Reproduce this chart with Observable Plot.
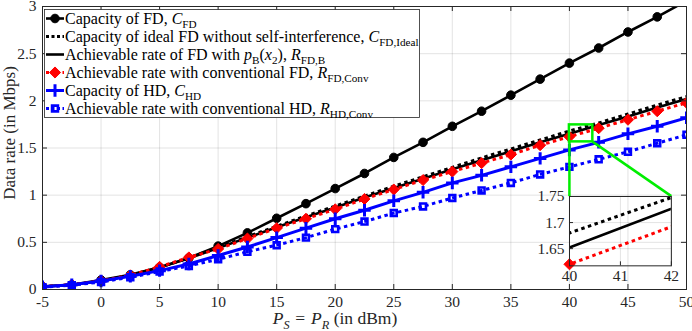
<!DOCTYPE html>
<html><head><meta charset="utf-8">
<script src="https://cdn.jsdelivr.net/npm/d3@7"></script>
<script src="https://cdn.jsdelivr.net/npm/@observablehq/plot@0.6"></script>
<style>
body{margin:0;background:#fff;}
#wrap{position:relative;width:692px;height:331px;overflow:hidden;}
#wrap svg{position:absolute;overflow:visible;}
</style></head><body><div id="wrap"></div>
<script>
// ---------- data ----------
const power = [-5,-2.5,0,2.5,5,7.5,10,12.5,15,17.5,20,22.5,25,27.5,30,32.5,35,37.5,40,42.5,45,47.5,50];
const capFD      = [0.03,0.05,0.10,0.155,0.235,0.335,0.46,0.60,0.755,0.91,1.07,1.23,1.40,1.56,1.73,1.89,2.06,2.23,2.40,2.56,2.73,2.89,3.06];
const capFDIdeal = [0.03,0.05,0.09,0.15,0.235,0.335,0.445,0.56,0.67,0.78,0.885,0.99,1.095,1.195,1.295,1.395,1.49,1.585,1.68,1.765,1.86,1.955,2.045];
const rateFDB    = [0.03,0.05,0.09,0.15,0.232,0.33,0.44,0.55,0.66,0.765,0.87,0.975,1.075,1.175,1.275,1.37,1.465,1.56,1.652,1.745,1.835,1.93,2.02];
const rateFDConv = [0.03,0.05,0.09,0.15,0.24,0.34,0.43,0.54,0.65,0.75,0.85,0.96,1.06,1.16,1.25,1.34,1.43,1.53,1.62,1.71,1.80,1.89,1.98];
const capHD      = [0.03,0.05,0.09,0.14,0.20,0.27,0.36,0.45,0.55,0.65,0.75,0.84,0.94,1.03,1.13,1.21,1.30,1.39,1.48,1.56,1.65,1.73,1.82];
const rateHDConv = [0.025,0.045,0.08,0.13,0.19,0.25,0.32,0.40,0.47,0.55,0.64,0.72,0.81,0.88,0.97,1.05,1.13,1.22,1.30,1.38,1.46,1.55,1.64];
const seriesValues = [capFD, capFDIdeal, rateFDB, rateFDConv, capHD, rateHDConv];
const seriesKeys = ["C_FD","C_FD,Ideal","R_FD,B","R_FD,Conv","C_HD","R_HD,Conv"];
const legendLabels = [
  [["Capacity of FD, "],["C","i"],["FD","sub"]],
  [["Capacity of ideal FD without self-interference, "],["C","i"],["FD,Ideal","sub"]],
  [["Achievable rate of FD with "],["p","i"],["B","sub"],["("],["x","i"],["2","sub"],["), "],["R","i"],["FD,B","sub"]],
  [["Achievable rate with conventional FD, "],["R","i"],["FD,Conv","sub"]],
  [["Capacity of HD, "],["C","i"],["HD","sub"]],
  [["Achievable rate with conventional HD, "],["R","i"],["HD,Conv","sub"]]
];
const xTitle = [["P","i"],["S","isub"],["\u2004=\u2004"],["P","i"],["R","isub"],[" (in dBm)"]];
const yTitle = "Data rate (in Mbps)";
const xTicks = [-5,0,5,10,15,20,25,30,35,40,45,50];
const yTicks = [0,0.5,1,1.5,2,2.5,3];
const insetXTicks = [40,41,42];
const insetYTicks = [1.65,1.7,1.75];
const zoomX = [40,42];           // zoomed region (x)
const zoomY = [1.565,1.745];     // zoomed region marker box (y)
const insetDomainY = [1.617,1.75];
const insetPlaceX = [40,48.7];   // where the inset sits, in main data units
const insetPlaceY = [0.255,0.99];

// ---------- styles ----------
const FONT = "Liberation Serif, Times New Roman, serif";
const INK = "#262626";
const styles = [
  {stroke:"#000", w:2.6, dash:null,  symbol:"circle",   r:4.3, fill:"#000", ms:"#000", msw:1},
  {stroke:"#000", w:3,   dash:"3.5,3.5", symbol:null},
  {stroke:"#000", w:2.6, dash:null,  symbol:null},
  {stroke:"#f00", w:3,   dash:"3.5,3.5", symbol:"diamond2", r:5, fill:"#f00", ms:"#f00", msw:1},
  {stroke:"#00f", w:3,   dash:null,  symbol:"plus",     r:4.1, fill:"none", ms:"#00f", msw:3},
  {stroke:"#00f", w:3,   dash:"3.5,3.5", symbol:"square",  r:3.3, fill:"none", ms:"#00f", msw:2.6}
];

const rows = [];
seriesValues.forEach((vals, i) => vals.forEach((v, j) => rows.push({x: power[j], y: v, s: i})));

const mainFilter = () => true;
function seriesMarks(filterDots) {
  const m = [];
  styles.forEach((st, i) => {
    const d = rows.filter(r => r.s === i);
    m.push(Plot.line(d, {x:"x", y:"y", stroke: st.stroke, strokeWidth: st.w,
      strokeDasharray: st.dash || undefined, strokeLinecap: "butt", strokeLinejoin: "miter", clip: true}));
    if (st.symbol) {
      m.push(Plot.dot(d.filter(filterDots), {x:"x", y:"y", symbol: () => st.symbol, r: st.r,
        fill: st.fill, stroke: st.ms, strokeWidth: st.msw, clip: filterDots === mainFilter}));
    }
  });
  return m;
}

const W = 692, H = 331, ML = 42, MR = 6, MT = 6, MB = 42;
const FW = W - ML - MR, FH = H - MT - MB;

const main = Plot.plot({
  width: W, height: H, marginLeft: ML, marginRight: MR, marginTop: MT, marginBottom: MB,
  style: {fontFamily: FONT, fontSize: "15.5px", color: INK, background: "white", overflow: "visible"},
  x: {domain: [-5, 50]},
  y: {domain: [0, 3]},
  marks: [
    Plot.gridX(xTicks, {stroke: INK, strokeOpacity: 0.13}),
    Plot.gridY(yTicks, {stroke: INK, strokeOpacity: 0.13}),
    ...seriesMarks(mainFilter),
    Plot.rect([0], {x1: () => zoomX[0], x2: () => zoomX[1], y1: () => zoomY[0], y2: () => zoomY[1],
      fill: "none", stroke: "#00ee00", strokeWidth: 2.5}),
    Plot.link([0, 1], {x1: i => zoomX[i], y1: () => zoomY[0], x2: i => insetPlaceX[i], y2: () => insetPlaceY[1],
      stroke: "#00ee00", strokeWidth: 2.5}),
    Plot.frame({stroke: INK}),
    Plot.tickX(xTicks, {x: d => d, insetTop: FH - 5, stroke: INK}),
    Plot.tickX(xTicks, {x: d => d, insetBottom: FH - 5, stroke: INK}),
    Plot.tickY(yTicks, {y: d => d, insetRight: FW - 5, stroke: INK}),
    Plot.tickY(yTicks, {y: d => d, insetLeft: FW - 5, stroke: INK}),
    Plot.axisX(xTicks, {tickSize: 0, tickPadding: 6, tickFormat: d => String(d), label: null}),
    Plot.axisY(yTicks, {tickSize: 0, tickPadding: 6, tickFormat: d => String(d), label: null})
  ]
});
const wrap = document.getElementById("wrap");
main.style.left = "0px"; main.style.top = "0px";
wrap.appendChild(main);

// ---------- rich text helper ----------
function richText(sel, segs, size) {
  let shift = 0;
  const subSize = size * 0.7, subDy = size * 0.27;
  segs.forEach(([txt, kind]) => {
    const sub = kind === "sub" || kind === "isub";
    const ital = kind === "i" || kind === "isub";
    const target = sub ? subDy : 0;
    sel.append("tspan").text(txt)
      .attr("dy", target - shift)
      .attr("font-size", sub ? subSize : size)
      .attr("font-style", ital ? "italic" : "normal");
    shift = target;
  });
}

const svg = d3.select(main);
// axis titles
const xt = svg.append("text").attr("x", 335).attr("y", 324).attr("text-anchor", "middle")
  .attr("fill", INK).attr("font-family", FONT);
richText(xt, xTitle, 17.5);
svg.append("text").attr("transform", `translate(14.5,133) rotate(-90)`).attr("text-anchor", "middle")
  .attr("fill", INK).attr("font-family", FONT).attr("font-size", 17).text(yTitle);

// legend
const symMap = {circle: d3.symbolCircle, diamond2: d3.symbolDiamond2, plus: d3.symbolPlus, square: d3.symbolSquare};
const lg = svg.append("g").attr("text-anchor", "start");
lg.append("rect").attr("x", 44.5).attr("y", 9.5).attr("width", 375).attr("height", 108)
  .attr("fill", "white").attr("stroke", INK).attr("stroke-width", 0.8);
legendLabels.forEach((segs, i) => {
  const cy = 18.5 + i * 18;
  const st = styles[i];
  lg.append("line").attr("x1", 46).attr("x2", 64).attr("y1", cy).attr("y2", cy)
    .attr("stroke", st.stroke).attr("stroke-width", st.w).attr("stroke-dasharray", st.dash ? "3,2.5" : null);
  if (st.symbol) {
    lg.append("path").attr("transform", `translate(55,${cy})`)
      .attr("d", d3.symbol(symMap[st.symbol], Math.PI * st.r * st.r)())
      .attr("fill", st.fill).attr("stroke", st.ms).attr("stroke-width", st.msw);
  }
  const t = lg.append("text").attr("x", 65).attr("y", cy + 5).attr("text-anchor", "start")
    .attr("fill", "#000").attr("font-family", FONT);
  richText(t, segs, 16);
});

// ---------- inset ----------
const xs = main.scale("x"), ys = main.scale("y");
const px0 = xs.apply(insetPlaceX[0]), px1 = xs.apply(insetPlaceX[1]);
const pyTop = ys.apply(insetPlaceY[1]), pyBot = ys.apply(insetPlaceY[0]);
const IML = 46, IMR = 12, IMT = 6, IMB = 26;
const IFW = px1 - px0, IFH = pyBot - pyTop;
const inset = Plot.plot({
  width: IFW + IML + IMR, height: IFH + IMT + IMB,
  marginLeft: IML, marginRight: IMR, marginTop: IMT, marginBottom: IMB,
  style: {fontFamily: FONT, fontSize: "15.5px", color: INK, background: "transparent", overflow: "visible"},
  x: {domain: zoomX},
  y: {domain: insetDomainY},
  marks: [
    Plot.gridX(insetXTicks, {stroke: INK, strokeOpacity: 0.13}),
    Plot.gridY(insetYTicks, {stroke: INK, strokeOpacity: 0.13}),
    ...seriesMarks(r => r.x >= zoomX[0] && r.x <= zoomX[1]),
    Plot.frame({stroke: INK}),
    Plot.tickX(insetXTicks, {x: d => d, insetTop: IFH - 4, stroke: INK}),
    Plot.tickY(insetYTicks, {y: d => d, insetRight: IFW - 4, stroke: INK}),
    Plot.axisX(insetXTicks, {tickSize: 0, tickPadding: 4, tickFormat: d => String(d), label: null}),
    Plot.axisY(insetYTicks, {tickSize: 0, tickPadding: 5, tickFormat: d => String(d), label: null})
  ]
});
inset.style.left = (px0 - IML) + "px";
inset.style.top = (pyTop - IMT) + "px";
wrap.appendChild(inset);
</script></body></html>
